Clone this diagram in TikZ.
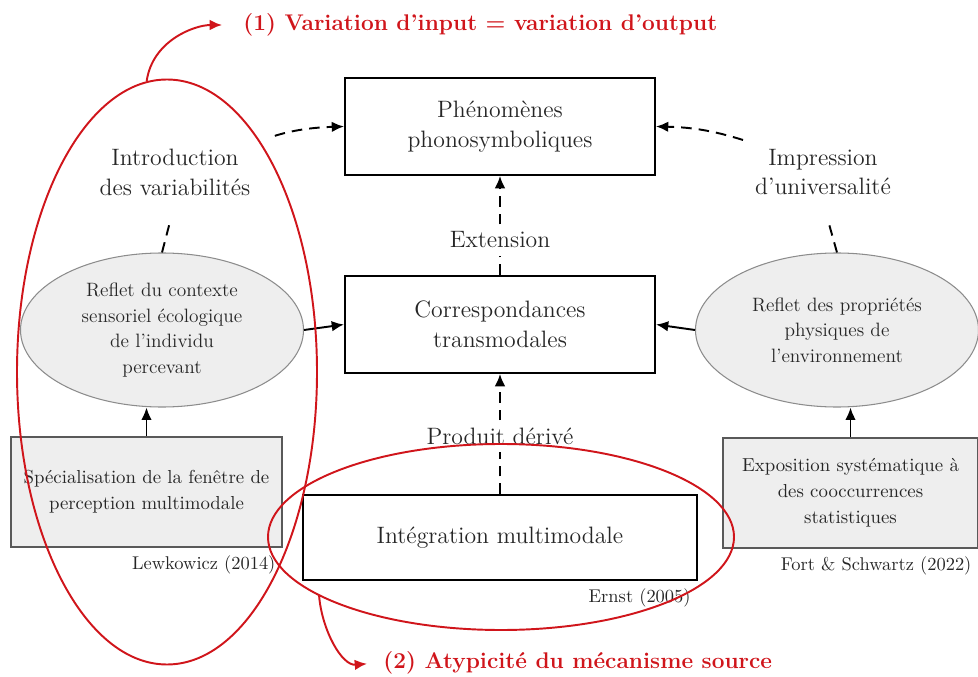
\documentclass[tikz,border=0pt]{standalone}
\usepackage{tikz}
\usetikzlibrary{arrows.meta,shapes,positioning}
\definecolor{DiagRed}{HTML}{D0151B}
\definecolor{BoxGray}{HTML}{EEEEEE}
\tikzstyle{edge}   =[>={Latex[length=7pt,width=6pt]}, line width=1.1pt]
\tikzstyle{dedge}  =[edge, dash pattern=on 6pt off 4pt]
\tikzstyle{mainbox}=[draw, line width=1.1pt, minimum width=6.2cm,
                     minimum height=1.94cm, font=\fontsize{13.5}{17}\selectfont]
\tikzstyle{graybox}=[draw=black!65, fill=BoxGray, line width=0.9pt,
                     minimum height=2.2cm, font=\fontsize{10.7}{14.8}\selectfont]
\tikzstyle{envell} =[ellipse, draw=black!45, fill=BoxGray, line width=0.6pt,
                     inner sep=1pt, minimum width=5.66cm, minimum height=3.08cm,
                     font=\fontsize{11}{14.5}\selectfont]
\tikzstyle{lbl}    =[font=\fontsize{13.5}{17}\selectfont]
\tikzstyle{cite}   =[font=\fontsize{10.5}{12}\selectfont, anchor=north east]
\tikzstyle{ring}   =[ellipse, draw=DiagRed, line width=1.1pt]
\tikzstyle{rednote}=[text=DiagRed, anchor=west,
                     font=\bfseries\fontsize{12.9}{15}\selectfont]

\begin{document}
\begin{tikzpicture}[every node/.style = {align=center, text=black!85,
        inner sep=4pt}, on grid]
    \useasboundingbox (0,0) rectangle (19.56,-13.54);
    % central column
    \node (phen) [mainbox] at (10,-2.53) {Phénomènes\\phonosymboliques};
    \node (corr) [mainbox, below=3.96cm of phen] {Correspondances\\transmodales};
    \node (integ) [mainbox, minimum width=7.88cm, minimum height=1.7cm,
        below=4.26cm of corr] {Intégration multimodale};
    % side columns
    \node (envl) [envell, below left=0.11cm and 6.76cm of corr]
        {Reflet du contexte\\sensoriel écologique\\de l'individu\\percevant};
    \node (envr) [envell, below right=0.11cm and 6.74cm of corr]
        {Reflet des propriétés\\physiques de\\l'environnement};
    \node (spec) [graybox, minimum width=5.42cm, below left=3.24cm and 0.31cm of envl]
        {Spécialisation de la fenêtre de\\perception multimodale};
    \node (expo) [graybox, minimum width=5.1cm, below right=3.26cm and 0.27cm of envr]
        {Exposition systématique à\\des cooccurrences\\statistiques};
    \node (intro) [lbl] at (3.5,-3.44) {Introduction\\des variabilités};
    \node (impr) [lbl] at (16.46,-3.44) {Impression\\d'universalité};
    \node (ext) [lbl, below=2.27cm of phen] {Extension};
    \node (prod) [lbl, above=2.03cm of integ] {Produit dérivé};
    \node (lewk) [cite] at (spec.south east) {Lewkowicz (2014)};
    \node (ernst) [cite] at (integ.south east) {Ernst (2005)};
    \node (fort) [cite] at (expo.south east) {Fort \& Schwartz (2022)};
    % connectors
    \draw[edge,->] (envl.east) -- (corr.west);
    \draw[edge,->] (envr.west) -- (corr.east);
    \draw[edge,->] (spec.north) -- (envl.south -| spec.north);
    \draw[edge,->] (expo.north) -- (envr.south -| expo.north);
    \draw[dedge] (corr.north) -- (ext.south);
    \draw[dedge,->] (ext.north) -- (phen.south);
    \draw[dedge] (integ.north) -- (prod.south);
    \draw[dedge,->] (prod.north) -- (corr.south);
    \draw[dedge] (envl.north) -- (intro.south) [shorten >=0.35cm];
    \draw[dedge] (envr.north) -- (impr.south) [shorten >=0.35cm];
    \draw[dedge,->,shorten <=0.36cm] (intro.north east) to[bend left=8] (phen.west);
    \draw[dedge,->,shorten <=0.1cm] (impr.north west) to[bend right=8] (phen.east);
    % red annotations
    \node (ringl) [ring, minimum width=6cm, minimum height=11.7cm] at (3.34,-7.44) {};
    \node (ringc) [ring, minimum width=9.32cm, minimum height=3.72cm] at (10.02,-10.74) {};
    \node (t1) [rednote] at (4.72,-0.5) {(1) Variation d'input = variation d'output};
    \node (t2) [rednote] at (7.52,-13.26) {(2) Atypicité du mécanisme source};
    \draw[edge,->,DiagRed,shorten >=0.28cm] (ringl.94) to[out=82,in=180] (t1.west);
    \draw[edge,->,DiagRed,shorten >=0.18cm] (ringc.198) to[out=-85,in=185] (t2.west);
\end{tikzpicture}
\end{document}
